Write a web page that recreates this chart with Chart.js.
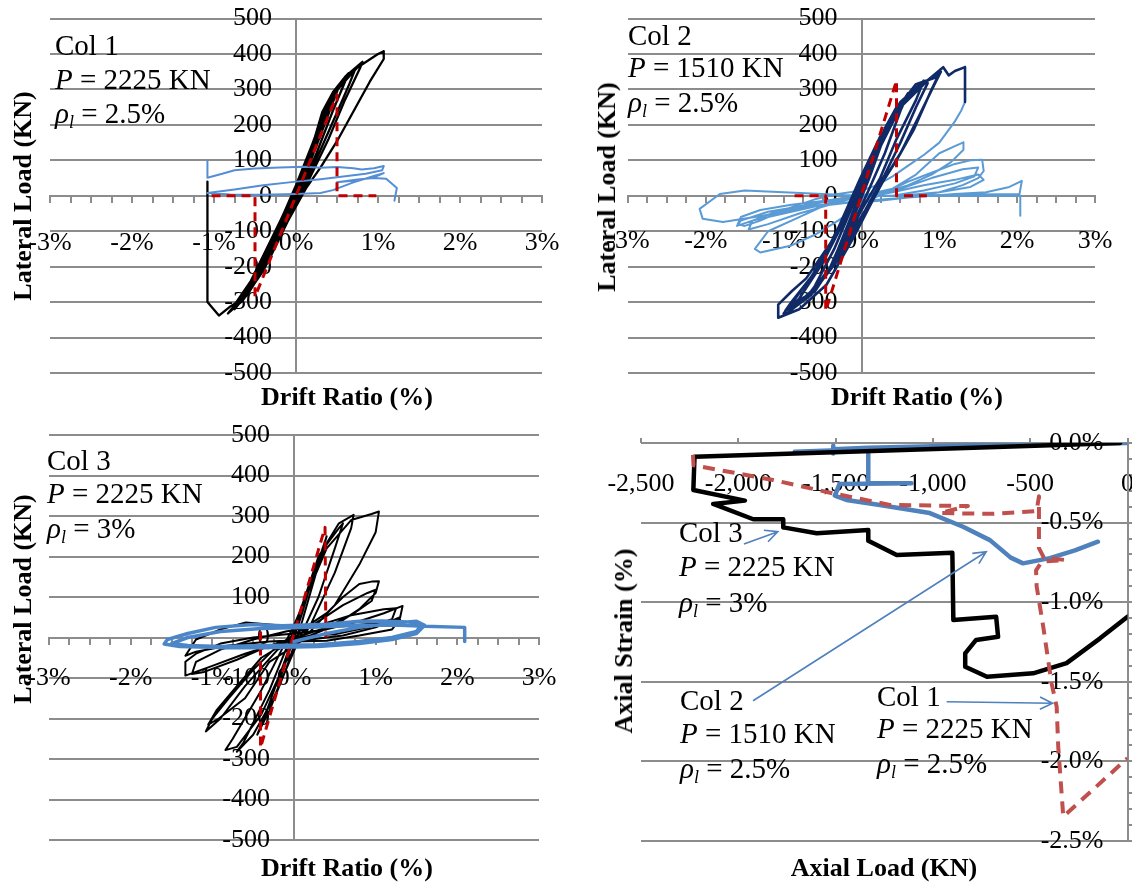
<!DOCTYPE html>
<html>
<head>
<meta charset="utf-8">
<title>Column test hysteresis</title>
<script src="https://cdn.jsdelivr.net/npm/chart.js@4.4.1/dist/chart.umd.min.js"></script>
<style>
  html, body { margin: 0; padding: 0; background: #fff; overflow: hidden; width: 1132px; height: 884px; }
  canvas { position: absolute; left: 0; top: 0; }
  .t { position: absolute; font-family: "Liberation Serif", "Times New Roman", serif; color: #000; white-space: nowrap; line-height: 1; }
  .note { font-size: 29px; transform: translateY(-50%); }
  .ax { font-size: 26px; font-weight: bold; transform: translate(-50%, -50%); }
  .ax.v { transform: translate(-50%, -50%) rotate(-90deg); }
  sub { font-size: 0.62em; line-height: 0; vertical-align: -0.28em; }
</style>
</head>
<body>
<canvas id="c1" width="1200" height="950" style="width:1200px;height:950px"></canvas>
<canvas id="c2" width="1200" height="950" style="width:1200px;height:950px"></canvas>
<canvas id="c3" width="1200" height="950" style="width:1200px;height:950px"></canvas>
<canvas id="c4" width="1200" height="950" style="width:1200px;height:950px"></canvas>

<!-- panel notes -->
<div class="t note" style="left:55px;top:45px">Col 1</div>
<div class="t note" style="left:55px;top:79px"><i>P</i> = 2225 KN</div>
<div class="t note" style="left:55px;top:113px"><i>ρ<sub>l</sub></i> = 2.5%</div>

<div class="t note" style="left:628px;top:35px">Col 2</div>
<div class="t note" style="left:628px;top:67px"><i>P</i> = 1510 KN</div>
<div class="t note" style="left:628px;top:102px"><i>ρ<sub>l</sub></i> = 2.5%</div>

<div class="t note" style="left:47px;top:460px">Col 3</div>
<div class="t note" style="left:47px;top:493px"><i>P</i> = 2225 KN</div>
<div class="t note" style="left:47px;top:528px"><i>ρ<sub>l</sub></i> = 3%</div>

<div class="t note" style="left:679px;top:532px">Col 3</div>
<div class="t note" style="left:679px;top:566px"><i>P</i> = 2225 KN</div>
<div class="t note" style="left:679px;top:602px"><i>ρ<sub>l</sub></i> = 3%</div>

<div class="t note" style="left:680px;top:700px">Col 2</div>
<div class="t note" style="left:680px;top:733px"><i>P</i> = 1510 KN</div>
<div class="t note" style="left:680px;top:768px"><i>ρ<sub>l</sub></i> = 2.5%</div>

<div class="t note" style="left:877px;top:696px">Col 1</div>
<div class="t note" style="left:877px;top:728px"><i>P</i> = 2225 KN</div>
<div class="t note" style="left:877px;top:763px"><i>ρ<sub>l</sub></i> = 2.5%</div>

<!-- axis titles -->
<div class="t ax v" style="left:23px;top:196px">Lateral Load (KN)</div>
<div class="t ax" style="left:347px;top:397px">Drift Ratio (%)</div>
<div class="t ax v" style="left:607px;top:187px">Lateral Load (KN)</div>
<div class="t ax" style="left:917px;top:397px">Drift Ratio (%)</div>
<div class="t ax v" style="left:23px;top:599px">Lateral Load (KN)</div>
<div class="t ax" style="left:347px;top:868px">Drift Ratio (%)</div>
<div class="t ax v" style="left:624px;top:641px">Axial Strain (%)</div>
<div class="t ax" style="left:884px;top:868px">Axial Load (KN)</div>

<script>
// drift ratio (%) , lateral load (kN)
const col1Test = [[0,0],[0.1,60],[0.2,130],[0.15,92],[0.05,22],[-0.1,-50],[-0.2,-118],[-0.14,-82],[-0.04,-18],[0.1,55],[0.25,150],[0.35,225],[0.3,190],[0.15,96],[0,8],[-0.2,-92],[-0.35,-170],[-0.45,-226],[-0.38,-192],[-0.2,-108],[0,2],[0.2,112],[0.35,215],[0.45,272],[0.53,312],[0.48,282],[0.35,202],[0.15,82],[0,-6],[-0.2,-112],[-0.4,-212],[-0.55,-262],[-0.65,-292],[-0.58,-266],[-0.4,-190],[-0.2,-90],[0,22],[0.2,142],[0.32,236],[0.45,292],[0.6,336],[0.64,346],[0.58,312],[0.45,240],[0.25,120],[0.05,12],[-0.2,-112],[-0.45,-226],[-0.65,-292],[-0.75,-320],[-0.7,-302],[-0.5,-220],[-0.25,-100],[-0.05,0],[0.2,130],[0.45,285],[0.7,350],[0.72,356],[0.65,315],[0.5,235],[0.3,130],[0.1,30],[-0.15,-95],[-0.4,-205],[-0.6,-275],[-0.72,-306],[-0.68,-295],[-0.5,-225],[-0.3,-130],[0,30],[0.25,176],[0.4,270],[0.6,336],[0.81,378],[0.78,360],[0.6,272],[0.4,162],[0.15,42],[-0.1,-72],[-0.4,-212],[-0.65,-296],[-0.83,-332],[-0.78,-318],[-0.55,-240],[-0.3,-122],[0,20],[0.3,210],[0.5,302],[0.75,362],[1.0,400],[1.07,408],[1.07,386],[0.9,322],[0.7,238],[0.5,154],[0.3,80],[0.13,24],[-0.1,-72],[-0.35,-190],[-0.6,-282],[-0.8,-312],[-0.94,-338],[-1.08,-300],[-1.08,40]];
const col1Post = [[-1.08,98],[-1.08,51],[-0.9,62],[-0.75,72],[-0.5,77],[-0.2,80],[0.1,82],[0.3,79],[0.5,81],[0.7,78],[0.8,74],[0.95,78],[1.07,84],[1.05,72],[0.85,62],[0.6,55],[0.3,47],[0,40],[-0.4,30],[-0.75,18],[-1.08,8],[-0.8,4],[-0.4,3],[0,5],[0.3,8],[0.45,16],[0.7,38],[0.95,56],[1.07,64],[0.95,52],[0.75,44],[0.5,38],[0.75,46],[0.95,50],[1.1,48],[1.23,22],[1.2,-14]];
const col1Model = [[-1.03,0],[-0.5,0],[-0.5,-285],[0.5,285],[0.5,0],[0.98,0]];

const col2Test = [[0,0],[0.1,60],[0.2,120],[0.12,70],[0,0],[-0.1,-60],[-0.2,-110],[-0.1,-60],[0,0],[0.2,130],[0.35,210],[0.28,160],[0.1,50],[-0.1,-60],[-0.3,-150],[-0.4,-200],[-0.3,-150],[-0.1,-40],[0.1,80],[0.3,190],[0.45,250],[0.58,279],[0.5,240],[0.3,120],[0.1,20],[-0.15,-100],[-0.4,-200],[-0.6,-260],[-0.7,-285],[-0.6,-255],[-0.35,-150],[-0.1,-20],[0.15,100],[0.4,220],[0.6,290],[0.75,312],[0.8,325],[0.7,270],[0.45,160],[0.24,50],[0,-40],[-0.3,-170],[-0.6,-270],[-0.85,-300],[-0.92,-315],[-0.8,-290],[-0.5,-190],[-0.2,-60],[0.2,140],[0.5,265],[0.78,320],[0.85,318],[0.7,250],[0.5,150],[0.3,60],[0.05,-40],[-0.25,-150],[-0.55,-250],[-0.8,-300],[-0.98,-325],[-0.9,-300],[-0.65,-230],[-0.4,-140],[-0.1,-10],[0.2,120],[0.5,250],[0.85,325],[1.02,350],[0.95,320],[0.75,230],[0.5,120],[0.3,50],[0.05,-50],[-0.3,-180],[-0.65,-280],[-0.95,-330],[-1.0,-332],[-0.85,-290],[-0.55,-200],[-0.25,-70],[0.1,80],[0.4,230],[0.7,315],[0.97,335],[1.0,345],[0.9,300],[0.67,186],[0.45,100],[0.24,28],[-0.11,-121],[-0.45,-251],[-0.8,-320],[-1.07,-344],[-1.07,-307],[-0.9,-270],[-0.71,-233],[-0.36,-121],[-0.02,47],[0.24,167],[0.6,280],[0.9,335],[1.05,363],[1.12,340],[1.2,352],[1.33,363],[1.33,265]];
const col2Post = [[1.33,265],[1.28,240],[1.2,210],[1.0,150],[0.8,115],[0.6,85],[0.4,55],[0.2,30],[0,15],[-0.3,5],[-0.6,-10],[-1.0,-40],[-1.3,-70],[-1.5,-85],[-1.59,-80],[-1.55,-60],[-1.3,-40],[-0.9,-25],[-0.5,-15],[-0.2,-5],[0.1,5],[0.4,20],[0.7,60],[1.0,120],[1.2,140],[1.31,151],[1.31,130],[1.15,95],[0.9,60],[0.6,30],[0.3,10],[0,0],[-0.4,-20],[-0.8,-60],[-1.2,-100],[-1.37,-150],[-1.3,-160],[-1.1,-150],[-0.9,-140],[-0.6,-110],[-0.3,-70],[0,-25],[0.3,10],[0.6,40],[0.9,65],[1.2,90],[1.4,100],[1.55,102],[1.57,70],[1.5,50],[1.3,30],[1.0,10],[0.6,-5],[0.2,-15],[-0.2,-20],[-0.6,-30],[-1.0,-50],[-1.4,-70],[-1.6,-85],[-1.55,-70],[-1.2,-45],[-0.8,-30],[-0.4,-15],[0,-5],[0.4,10],[0.8,30],[1.2,45],[1.5,60],[1.57,45],[1.4,25],[1.0,10],[0.5,0],[0,0],[-0.4,-25],[-0.8,-50],[-1.2,-80],[-1.45,-95],[-1.4,-70],[-1.1,-45],[-0.7,-25],[-0.3,-10],[0.1,0],[0.5,20],[0.9,50],[1.3,75],[1.5,80],[1.45,55],[1.2,35],[0.8,15],[0.4,0],[0,0],[-0.5,5],[-1.0,10],[-1.5,15],[-1.82,5],[-2.08,-37],[-2.04,-65],[-1.78,-74],[-1.27,-56],[-0.62,-28],[0,-15],[0.6,-5],[1.2,5],[1.6,10],[1.9,25],[2.06,42],[2.03,5],[1.0,2],[0.7,0],[2.04,0],[2.04,-56]];
const col2Model = [[-0.86,0],[-0.46,0],[-0.46,-325],[0.45,325],[0.45,0],[0.84,0]];

const col3Test = [[0,0],[0.1,60],[0.2,130],[0.1,60],[0,0],[-0.1,-60],[-0.2,-120],[-0.1,-60],[0,0],[0.25,160],[0.4,250],[0.3,180],[0.1,40],[-0.1,-80],[-0.3,-180],[-0.45,-240],[-0.35,-190],[-0.1,-50],[0.15,100],[0.4,230],[0.55,270],[0.6,282],[0.5,220],[0.3,100],[0.05,-10],[-0.25,-150],[-0.5,-240],[-0.7,-282],[-0.62,-260],[-0.3,-130],[0,20],[0.3,200],[0.55,282],[0.73,303],[0.7,270],[0.5,160],[0.2,30],[-0.1,-60],[-0.4,-190],[-0.7,-270],[-0.84,-278],[-0.75,-250],[-0.4,-130],[0,30],[0.4,220],[0.7,290],[0.95,305],[1.04,311],[1.0,260],[0.8,180],[0.5,80],[0.2,15],[-0.2,-30],[-0.6,-120],[-0.9,-200],[-1.08,-232],[-1.0,-200],[-0.8,-150],[-0.5,-80],[-0.2,-20],[0.1,20],[0.4,60],[0.6,100],[0.8,132],[0.95,138],[1.04,139],[1.0,110],[0.8,70],[0.5,30],[0.2,5],[-0.3,-60],[-0.6,-150],[-0.92,-200],[-1.05,-215],[-0.95,-180],[-0.7,-120],[-0.4,-50],[0,0],[0.3,40],[0.6,80],[0.9,110],[1.0,118],[0.95,90],[0.7,55],[0.4,25],[0.1,5],[-0.3,-20],[-0.7,-55],[-1.1,-85],[-1.25,-90],[-1.2,-60],[-0.9,-30],[-0.5,-5],[-0.1,15],[0.3,30],[0.7,55],[1.1,70],[1.25,72],[1.2,45],[0.9,25],[0.5,8],[0.2,5],[-0.2,-15],[-0.6,-40],[-1.0,-70],[-1.33,-94],[-1.33,-60],[-1.2,-40],[-0.9,-15],[-0.5,0],[0,10],[0.4,20],[0.8,40],[1.1,60],[1.33,78],[1.3,50],[1.0,25],[0.6,5],[0.2,-5],[-0.3,-10],[-0.8,-20],[-1.2,-35],[-1.33,-45],[-1.2,-5],[-0.9,20],[-0.59,37],[-0.2,30],[0.2,25],[0.6,28],[1.0,35],[1.3,45],[1.2,20],[0.8,5],[0.4,-8],[0,-10]];
const col3Post = [[0,-10],[0.4,10],[0.8,25],[1.2,35],[1.5,40],[1.6,30],[1.5,10],[1.2,-5],[0.8,-15],[0.3,-22],[-0.3,-25],[-0.9,-25],[-1.4,-22],[-1.59,-16],[-1.55,-5],[-1.3,10],[-0.96,25],[-0.5,32],[-0.14,29],[0.4,33],[0.8,40],[1.08,41],[1.4,38],[1.57,33],[1.5,15],[1.2,0],[0.8,-10],[0.3,-18],[-0.3,-20],[-0.9,-22],[-1.3,-20],[-1.5,-15],[-1.3,0],[-0.9,15],[-0.4,22],[0.2,25],[0.8,30],[1.3,30],[1.6,28],[2.09,25],[2.09,-10]];
const col3Model = [[-0.41,15],[-0.41,-272],[0.38,272],[0.39,0]];

// axial load (kN) , axial strain (%)
const axialCol3 = [[-38,0],[-2225,-0.086],[-2231,-0.295],[-1966,-0.362],[-2129,-0.383],[-1923,-0.479],[-1769,-0.479],[-1769,-0.53],[-1597,-0.567],[-1332,-0.547],[-1332,-0.614],[-1186,-0.704],[-900,-0.69],[-895,-1.112],[-675,-1.091],[-665,-1.217],[-778,-1.237],[-834,-1.321],[-834,-1.405],[-722,-1.468],[-485,-1.447],[-313,-1.383],[-141,-1.227],[0,-1.091]];
const axialCol2 = [[0,0],[-700,-0.012],[-1332,-0.03],[-1512,-0.04],[-1512,-0.017],[-1512,-0.066],[-1520,-0.05],[-1710,-0.055],[-1600,-0.05],[-1332,-0.04],[-1332,-0.253],[-1110,-0.253],[-1480,-0.258],[-1504,-0.33],[-1444,-0.358],[-1273,-0.39],[-1016,-0.44],[-845,-0.526],[-707,-0.61],[-600,-0.72],[-537,-0.756],[-399,-0.723],[-270,-0.675],[-152,-0.62]];
const axialCol1 = [[-2233,-0.075],[-2230,-0.14],[-1822,-0.232],[-1514,-0.316],[-1222,-0.389],[-820,-0.396],[-964,-0.44],[-700,-0.445],[-467,-0.427],[-455,-0.335],[-455,-0.66],[-430,-0.72],[-320,-0.735],[-440,-0.745],[-470,-0.8],[-467,-0.9],[-433,-1.154],[-390,-1.51],[-364,-1.656],[-356,-1.907],[-330,-2.347],[0,-1.98]];
const noteArrows = [[[-1971,-0.634],[-1797,-0.557]], [[-1924,-1.619],[-726,-0.683]], [[-929,-1.625],[-385,-1.635]]];

const driftTicks = [-3, 3, 0.25];     // min, max, minor step (%)
const loadTicks = [-500, 500, 100];   // kN
const axialLoadTicks = [-2500, 0, 500];
const strainTicks = [-2.5, 0, 0.5, 0.1];

const W = 1200, H = 950;
const GRID = '#8c8c8c';
const TICK_FONT = { family: 'Liberation Serif', size: 26 };
const toXY = pts => pts.map(p => ({ x: p[0], y: p[1] }));

function line(pts, color, width, dash) {
  return {
    data: toXY(pts), showLine: true, pointRadius: 0, borderColor: color,
    borderWidth: width, borderDash: dash || [], tension: 0, fill: false,
    borderJoinStyle: 'round', borderCapStyle: dash ? 'butt' : 'round'
  };
}

function padFor(box) {
  return { left: box.left, top: box.top, right: W - box.right, bottom: H - box.bottom };
}

function driftPanel(id, box, labelPad, datasets) {
  const gap = -24 * (driftTicks[1] - driftTicks[0]) / (box.right - box.left);
  return new Chart(document.getElementById(id), {
    type: 'scatter',
    data: { datasets: datasets },
    options: {
      responsive: false, animation: false, events: [],
      layout: { padding: padFor(box) },
      plugins: { legend: { display: false }, tooltip: { enabled: false } },
      scales: {
        x: {
          type: 'linear', axis: 'x', position: { y: 0 },
          min: driftTicks[0], max: driftTicks[1],
          ticks: {
            stepSize: driftTicks[2], autoSkip: false, maxRotation: 0, maxTicksLimit: 100,
            padding: labelPad, font: TICK_FONT, color: '#000',
            callback: v => Number.isInteger(v) ? v + '%' : ''
          },
          grid: {
            color: c => (c.tick && c.tick.value === 0) ? GRID : 'rgba(0,0,0,0)',
            tickColor: GRID, lineWidth: 2, tickLength: 6, tickWidth: 2
          },
          border: { display: true, color: GRID, width: 2 }
        },
        y: {
          type: 'linear', axis: 'y', position: { x: gap },
          min: loadTicks[0], max: loadTicks[1],
          ticks: { stepSize: loadTicks[2], font: TICK_FONT, color: '#000' },
          grid: { color: GRID, lineWidth: 2, drawTicks: false },
          border: { display: false }
        }
      }
    }
  });
}

driftPanel('c1', { left: 50, right: 542, top: 17, bottom: 373 }, 26, [
  line(col1Model, '#C00000', 3, [9, 6]),
  line(col1Post, '#558ED5', 2),
  line(col1Test, '#000000', 2.3)
]);

driftPanel('c2', { left: 628, right: 1095, top: 14, bottom: 373 }, 24, [
  line(col2Model, '#C00000', 3, [9, 6]),
  line(col2Test, '#0F2A66', 2.6),
  line(col2Post, '#5B9BD5', 2)
]);

driftPanel('c3', { left: 49, right: 539, top: 435, bottom: 840 }, 19, [
  line(col3Post, '#4A86C8', 3.5),
  line(col3Model, '#C00000', 3, [9, 6]),
  line(col3Test, '#000000', 2)
]);

// arrows pointing from the notes to the curves
const arrowPlugin = {
  id: 'noteArrows',
  afterDatasetsDraw(chart) {
    const { ctx } = chart;
    const sx = chart.scales.x, sy = chart.scales.y;
    ctx.save();
    ctx.strokeStyle = '#4F81BD';
    ctx.lineWidth = 1.6;
    noteArrows.forEach(a => {
      const x1 = sx.getPixelForValue(a[0][0]), y1 = sy.getPixelForValue(a[0][1]);
      const x2 = sx.getPixelForValue(a[1][0]), y2 = sy.getPixelForValue(a[1][1]);
      const ang = Math.atan2(y2 - y1, x2 - x1);
      ctx.beginPath();
      ctx.moveTo(x1, y1);
      ctx.lineTo(x2, y2);
      ctx.moveTo(x2 - 14 * Math.cos(ang - 0.45), y2 - 14 * Math.sin(ang - 0.45));
      ctx.lineTo(x2, y2);
      ctx.lineTo(x2 - 14 * Math.cos(ang + 0.45), y2 - 14 * Math.sin(ang + 0.45));
      ctx.stroke();
    });
    ctx.restore();
  }
};

const box4 = { left: 641, right: 1127.5, top: 443, bottom: 841 };
const gap4 = -24 * (axialLoadTicks[1] - axialLoadTicks[0]) / (box4.right - box4.left);
new Chart(document.getElementById('c4'), {
  type: 'scatter',
  data: {
    datasets: [
      line(axialCol1, '#C0504D', 4, [12, 8]),
      line(axialCol3, '#000000', 4.5),
      line(axialCol2, '#4F81BD', 4.5)
    ]
  },
  plugins: [arrowPlugin],
  options: {
    responsive: false, animation: false, events: [],
    layout: { padding: { left: box4.left, top: box4.top - 5, right: W - box4.right - 6, bottom: H - box4.bottom } },
    plugins: { legend: { display: false }, tooltip: { enabled: false } },
    scales: {
      x: {
        type: 'linear', axis: 'x', position: 'top',
        min: axialLoadTicks[0], max: axialLoadTicks[1],
        ticks: { display: false, stepSize: axialLoadTicks[2] },
        grid: { drawOnChartArea: false, tickLength: 5, color: GRID, lineWidth: 2 },
        border: { display: false }
      },
      x2: {
        type: 'linear', axis: 'x', position: { y: 0 },
        min: axialLoadTicks[0], max: axialLoadTicks[1],
        ticks: {
          stepSize: axialLoadTicks[2], padding: 26, font: TICK_FONT, color: '#000', maxRotation: 0,
          callback: v => v.toLocaleString('en-US')
        },
        grid: { display: false, drawTicks: false },
        border: { display: false }
      },
      y: {
        type: 'linear', axis: 'y', position: { x: gap4 },
        min: strainTicks[0], max: strainTicks[1],
        ticks: { stepSize: strainTicks[2], font: TICK_FONT, color: '#000', callback: v => v.toFixed(1) + '%' },
        grid: { color: GRID, lineWidth: 2, drawTicks: false },
        border: { display: false }
      },
      yr: {
        type: 'linear', axis: 'y', position: 'right',
        min: strainTicks[0], max: strainTicks[1],
        ticks: { display: false, stepSize: strainTicks[3], maxTicksLimit: 100, font: { size: 8 } },
        grid: { drawOnChartArea: false, tickLength: 6, color: GRID, lineWidth: 2 },
        border: { display: true, color: GRID, width: 2 }
      }
    }
  }
});
</script>
</body>
</html>
